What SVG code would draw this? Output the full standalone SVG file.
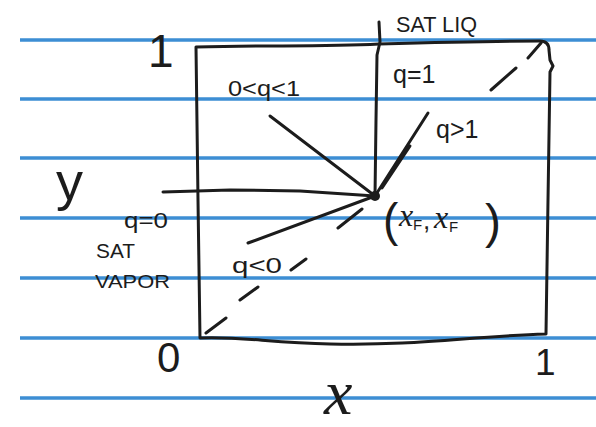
<svg xmlns="http://www.w3.org/2000/svg" width="596" height="427" viewBox="0 0 596 427">
<style>
.rule{stroke:#3d8ed4;stroke-width:3.5;fill:none}
.ink{stroke:#1c1c1c;stroke-width:3;fill:none;stroke-linecap:round;stroke-linejoin:round}
.t{fill:#1c1c1c;font-family:"Liberation Sans","DejaVu Sans",sans-serif}
.it{fill:#1c1c1c;font-family:"Liberation Serif","DejaVu Serif",serif;font-style:italic}
</style>
<rect width="596" height="427" fill="#ffffff"/>
<g id="paper">
<path class="rule" d="M20,40H596M20,99H596M20,158H596M20,218H596M20,278H596M20,338H596M20,398H596"/>
</g>
<g id="box">
<path class="ink" stroke-width="3.5" d="M196,47 C270,45 320,47 379,44 C450,42 510,41 540,41 Q549,41 549,50 L550,60 L553,66 L550,72 L548,200 L546,334 C470,336 420,346 330,344 C270,343 240,336 200,338 L198,200 Z"/>
</g>
<g id="connectors">
<path id="sat-liq-line" class="ink" d="M379,22 L380,42 L377,55 L376,120 L375,196"/>
<path id="q0-line" class="ink" d="M163,192 L230,190 L300,191 L375,196"/>
<path id="q01-line" class="ink" d="M270,116 L375,196"/>
<path id="qgt1-line" class="ink" d="M375,196 L428,113 M382,188 L410,146"/>
<path id="qlt0-line" class="ink" d="M248,243 L375,196"/>
<path id="diagonal" class="ink" stroke-width="2.5" d="M206,333 L226,318 M240,300 L258,287 M291,270 L306,259 M338,228 L362,209 M491,90 L516,68 M528,58 L541,43"/>
</g>
<g id="feed-point">
<circle cx="375" cy="196" r="5" fill="#1c1c1c"/>
</g>
<g id="labels">
<text class="t" x="396" y="32" font-size="22" textLength="81" lengthAdjust="spacingAndGlyphs">SAT LIQ</text>
<text class="t" x="393" y="83" font-size="25">q=1</text>
<text class="t" x="228" y="96" font-size="22" textLength="72" lengthAdjust="spacingAndGlyphs">0&lt;q&lt;1</text>
<text class="t" x="436" y="138" font-size="25">q&gt;1</text>
<text class="t" x="56" y="200" font-size="54">y</text>
<text class="t" x="124" y="228" font-size="22" textLength="44" lengthAdjust="spacingAndGlyphs">q=0</text>
<text class="t" x="96" y="258" font-size="20" textLength="39" lengthAdjust="spacingAndGlyphs">SAT</text>
<text class="t" x="95" y="288" font-size="18" textLength="75" lengthAdjust="spacingAndGlyphs">VAPOR</text>
<text class="t" x="232" y="273" font-size="22" textLength="50" lengthAdjust="spacingAndGlyphs">q&lt;0</text>
<text class="t" x="148" y="67" font-size="46">1</text>
<text class="t" x="157" y="372" font-size="42">0</text>
<text class="t" x="535" y="375" font-size="37">1</text>
<text class="it" x="324" y="414" font-size="64">x</text>
<text class="t" x="383" y="236" font-size="46">(</text>
<text x="0" y="0"><tspan class="it" x="399" y="226" font-size="32">x</tspan><tspan class="t" x="413" y="230" font-size="15">F</tspan><tspan class="t" x="423" y="229" font-size="26">,</tspan><tspan class="it" x="434" y="228" font-size="32">x</tspan><tspan class="t" x="449" y="232" font-size="15">F</tspan></text>
<text class="t" x="485" y="238" font-size="48">)</text>
</g>
</svg>
